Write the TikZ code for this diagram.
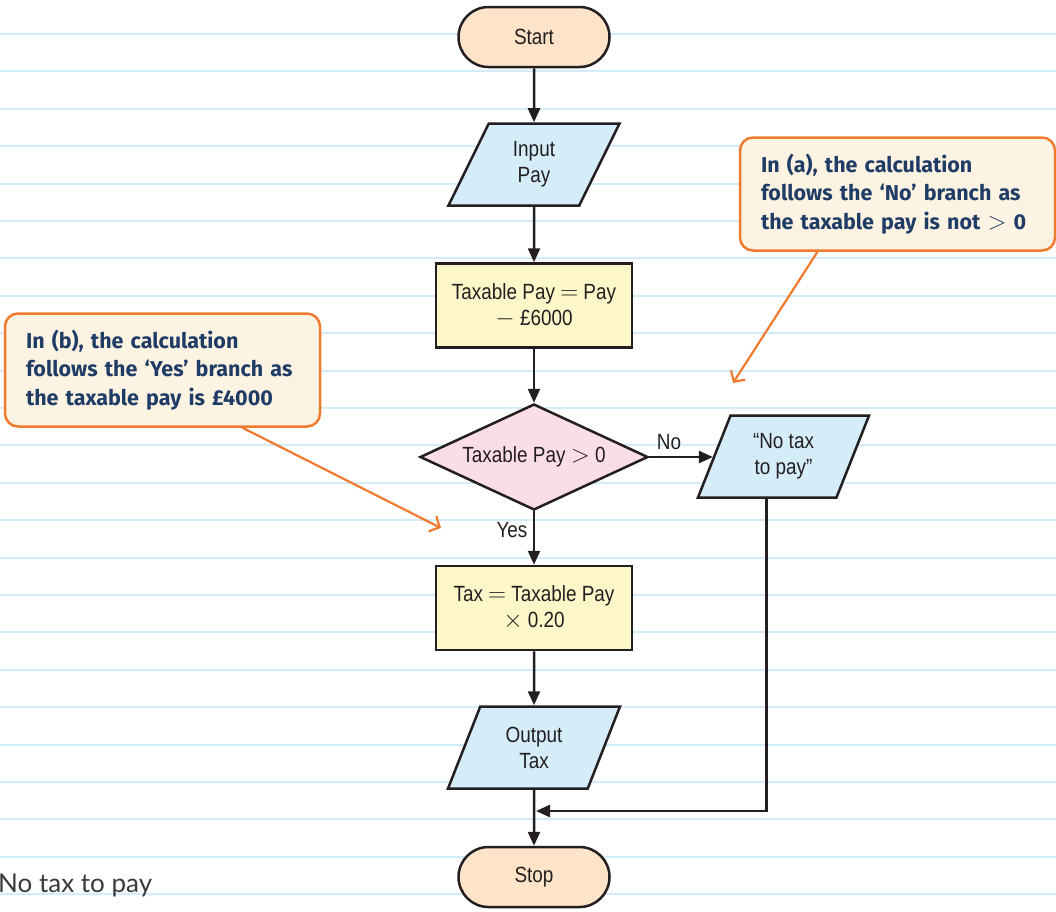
\documentclass[tikz,border=0pt]{standalone}
\usepackage{fontspec}
\setmainfont{Liberation Sans}[FakeStretch=0.86]
\newfontfamily\notefont{Fira Sans}
\newfontfamily\handfont{Lato}
\usetikzlibrary{shapes.geometric,arrows.meta}

\definecolor{ink}{HTML}{231F20}
\definecolor{ruleblue}{HTML}{D2ECFA}
\definecolor{termfill}{HTML}{FDE3C8}
\definecolor{iofill}{HTML}{D5ECF9}
\definecolor{procfill}{HTML}{FDF6C9}
\definecolor{decfill}{HTML}{FBDDE8}
\definecolor{notefill}{HTML}{FDF3E2}
\definecolor{noteedge}{HTML}{F07B2E}
\definecolor{notetext}{HTML}{1F3C66}
\definecolor{handgray}{HTML}{3A3A3A}

\newcommand{\bigsym}[2]{{\fontsize{#1}{#1}\selectfont$#2$}}

\begin{document}
\begin{tikzpicture}[x=1pt,y=-1pt,
  paperrule/.style={draw=ruleblue,line width=2pt},
  chart/.style={draw=ink,line width=2.5pt,text=ink,
    font=\fontsize{22pt}{26pt}\selectfont,align=center},
  term/.style={chart,fill=termfill,rectangle,rounded corners=30pt,
    minimum width=151pt,minimum height=60pt},
  io/.style={chart,fill=iofill,trapezium,trapezium left angle=67.7,
    trapezium right angle=112.3,trapezium stretches=true,
    minimum width=172pt,minimum height=82pt,inner sep=0pt},
  proc/.style={chart,fill=procfill,rectangle,
    minimum width=196pt,minimum height=84pt,inner sep=0pt},
  decision/.style={chart,fill=decfill,diamond,aspect=2.15,
    minimum width=228pt,minimum height=106pt,inner sep=0pt},
  flow/.style={draw=ink,line width=2.5pt,
    -{Triangle[length=14pt,width=12pt]}},
  branchlabel/.style={text=ink,font=\fontsize{22pt}{26pt}\selectfont},
  note/.style={draw=noteedge,fill=notefill,line width=2.5pt,
    rounded corners=13pt,minimum width=315pt,minimum height=113pt,
    text width=273pt,inner xsep=21pt,align=left,text=notetext,
    font=\notefont\bfseries\fontsize{21.5pt}{28.5pt}\selectfont},
  pointer/.style={draw=noteedge,line width=2.2pt,
    -{Straight Barb[length=8pt,width=17pt,line width=2.2pt]}}
]
\useasboundingbox (0,0) rectangle (1056,911);

% ruled paper background
\foreach \k in {0,...,23}
  \draw[paperrule] (0,{34+37.4*\k}) -- (1056,{34+37.4*\k});

% flowchart boxes
\node[term] (start) at (534,37) {Start};
\node[io] (input) at (534,164.5) {Input\\Pay};
\node[proc] (taxable) at (534,305.5) {Taxable Pay \bigsym{24pt}{=} Pay\\\bigsym{24pt}{-} £6000};
\node[decision] (test) at (534,457) {Taxable Pay \bigsym{24pt}{>} 0};
\node[io] (notax) at (783.5,456.5) {“No tax\\to pay”};
\node[proc] (tax) at (534,608) {Tax \bigsym{24pt}{=} Taxable Pay\\\bigsym{24pt}{\times} 0.20};
\node[io] (output) at (534,747.5) {Output\\Tax};
\node[term] (stop) at (534,877) {Stop};
\coordinate (join) at (536,811);

% branch labels
\node[branchlabel] (nolbl) at (669,442) {No};
\node[branchlabel] (yeslbl) at (512,530) {Yes};

% flow lines
\draw[flow] (start) -- (input);
\draw[flow] (input) -- (taxable);
\draw[flow] (taxable) -- (test);
\draw[flow] (test) -- (tax);
\draw[flow] (test.east) -- (test.east -| notax.west);
\draw[flow] (tax) -- (output);
\draw[flow] (output) -- (stop);
\draw[flow] ([xshift=-17pt]notax.south) |- (join);

% explanatory notes
\node[note] (notea) at (897.5,194) {In (a), the calculation\\follows the ‘No’ branch as\\the taxable pay is not \bigsym{24pt}{>} 0};
\node[note] (noteb) at (162.5,370) {In (b), the calculation\\follows the ‘Yes’ branch as\\the taxable pay is £4000};
\coordinate (tipa) at (733,383);
\coordinate (tipb) at (441,528);
\draw[pointer] ([xshift=-80pt]notea.south) -- (tipa);
\draw[pointer] ([xshift=80pt]noteb.south) -- (tipb);

% handwritten line below
\node[anchor=base west,inner sep=0pt,text=handgray,
  font=\handfont\fontsize{26pt}{30pt}\selectfont] (handnote) at (-2,892) {No tax to pay};
\end{tikzpicture}
\end{document}
